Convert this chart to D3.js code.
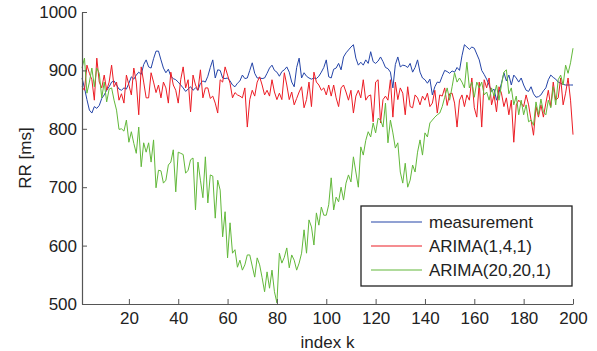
<!DOCTYPE html>
<html>
<head>
<meta charset="utf-8">
<script src="https://cdn.jsdelivr.net/npm/d3@7"></script>
<style>
  body { margin: 0; background: #fff; }
  svg { display: block; font-family: "Liberation Sans", Arial, Helvetica, sans-serif; }
</style>
</head>
<body>
<svg></svg>
<script>
const width = 597;
const height = 351;

// RR series, index k = 1..200
const measurement = [
  887, 870, 850, 832, 827, 838, 835, 840, 852, 858, 866, 872, 880, 882, 875, 868, 866, 870, 868, 878,
  889, 885, 892, 897, 893, 910, 918, 906, 904, 920, 933, 933, 918, 904, 896, 902, 890, 886, 884, 880,
  875, 870, 864, 868, 872, 866, 870, 866, 878, 882, 880, 890, 905, 918, 887, 901, 900, 887, 886, 887,
  882, 875, 872, 878, 882, 892, 886, 887, 900, 913, 895, 887, 887, 886, 887, 895, 904, 909, 900, 897,
  890, 898, 901, 906, 897, 880, 872, 905, 921, 887, 896, 890, 887, 885, 887, 886, 890, 897, 905, 918,
  889, 887, 902, 904, 912, 901, 923, 930, 935, 940, 944, 921, 909, 914, 909, 918, 912, 932, 915, 912,
  916, 923, 915, 905, 903, 897, 870, 910, 923, 906, 909, 908, 905, 912, 897, 905, 918, 897, 887, 884,
  878, 885, 858, 872, 880, 879, 890, 900, 898, 895, 899, 897, 905, 900, 925, 944, 940, 936, 940, 938,
  928, 918, 900, 893, 885, 875, 864, 868, 849, 862, 878, 896, 882, 892, 875, 892, 887, 880, 887, 875,
  866, 864, 872, 860, 854, 855, 858, 865, 870, 884, 892, 888, 885, 880, 878, 876, 875, 875, 875, 875
];
const arima141 = [
  872, 866, 909, 895, 884, 849, 921, 880, 870, 892, 866, 880, 909, 872, 880, 849, 860, 844, 892, 875,
  858, 904, 880, 824, 906, 880, 853, 853, 896, 880, 862, 875, 853, 880, 870, 844, 897, 875, 866, 844,
  884, 906, 870, 884, 829, 892, 875, 866, 901, 853, 870, 870, 852, 856, 844, 827, 884, 880, 906, 892,
  878, 853, 862, 858, 856, 853, 870, 803, 850, 866, 856, 880, 889, 875, 858, 866, 856, 884, 863, 850,
  861, 850, 896, 875, 850, 863, 841, 852, 863, 872, 836, 850, 880, 838, 897, 880, 875, 866, 870, 858,
  875, 856, 875, 853, 838, 870, 875, 863, 849, 866, 827, 856, 866, 853, 884, 849, 856, 858, 812, 880,
  884, 810, 850, 856, 849, 884, 820, 880, 850, 870, 861, 824, 872, 838, 836, 858, 853, 841, 856, 849,
  861, 838, 844, 866, 827, 858, 856, 870, 840, 860, 861, 844, 803, 849, 858, 838, 858, 849, 887, 836,
  820, 880, 803, 884, 870, 887, 841, 858, 829, 872, 861, 838, 853, 824, 849, 777, 841, 849, 844, 838,
  858, 841, 815, 789, 838, 820, 841, 820, 844, 866, 838, 880, 849, 853, 887, 841, 861, 887, 849, 790
];
const arima20201 = [
  904, 921, 861, 880, 904, 872, 904, 895, 853, 880, 846, 868, 870, 849, 832, 799, 800, 796, 815, 777,
  795, 775, 758, 803, 735, 776, 760, 776, 743, 781, 699, 729, 728, 707, 712, 738, 743, 764, 692, 760,
  758, 756, 724, 729, 747, 750, 661, 743, 712, 682, 752, 673, 721, 719, 647, 712, 695, 615, 658, 579,
  639, 587, 593, 563, 575, 558, 567, 584, 584, 565, 546, 579, 567, 545, 521, 555, 527, 558, 521, 502,
  587, 570, 580, 596, 562, 584, 575, 558, 570, 587, 627, 587, 644, 632, 601, 656, 635, 666, 652, 652,
  670, 716, 661, 683, 675, 700, 678, 707, 721, 709, 752, 726, 700, 769, 755, 780, 795, 786, 810, 793,
  818, 815, 803, 844, 776, 815, 793, 767, 776, 726, 707, 741, 700, 712, 738, 726, 760, 781, 755, 793,
  786, 810, 815, 820, 824, 827, 838, 854, 870, 849, 872, 896, 880, 887, 880, 870, 914, 870, 880, 854,
  880, 870, 880, 858, 863, 849, 870, 856, 875, 849, 875, 897, 901, 860, 870, 841, 856, 824, 849, 824,
  841, 812, 815, 806, 846, 824, 851, 829, 824, 849, 836, 872, 841, 884, 892, 875, 909, 895, 913, 938
];
const xTicks = [20, 40, 60, 80, 100, 120, 140, 160, 180, 200];
const yTicks = [500, 600, 700, 800, 900, 1000];
const seriesNames = ["measurement", "ARIMA(1,4,1)", "ARIMA(20,20,1)"];
const seriesColors = ["#2444a8", "#ec1c24", "#62b83a"];

const plotLeft = 82, plotRight = 573, plotTop = 12, plotBottom = 304;

const svg = d3.select("svg")
  .attr("width", width)
  .attr("height", height);

const x = d3.scaleLinear().domain([1, 200]).range([plotLeft, plotRight]);
const y = d3.scaleLinear().domain([500, 1000]).range([plotBottom, plotTop]);

const series = [measurement, arima141, arima20201];

const line = d3.line()
  .x((d, i) => x(i + 1))
  .y(d => y(d));

svg.selectAll(".series")
  .data(series)
  .enter()
  .append("path")
  .attr("class", "series")
  .attr("fill", "none")
  .attr("stroke", (d, i) => seriesColors[i])
  .attr("stroke-width", 1)
  .attr("stroke-linejoin", "round")
  .attr("d", line);

// axes, ticks point inward like matlab
const xAxis = svg.append("g")
  .attr("transform", `translate(0,${plotBottom})`)
  .call(d3.axisBottom(x).tickValues(xTicks).tickFormat(d3.format("d"))
    .tickSizeInner(-5).tickSizeOuter(0).tickPadding(8));

const yAxis = svg.append("g")
  .attr("transform", `translate(${plotLeft},0)`)
  .call(d3.axisLeft(y).tickValues(yTicks).tickFormat(d3.format("d"))
    .tickSizeInner(-5).tickSizeOuter(0).tickPadding(5));

[xAxis, yAxis].forEach(g => {
  g.select(".domain").attr("stroke", "#555").attr("stroke-width", 1.2);
  g.selectAll(".tick line").attr("stroke", "#555");
  g.selectAll(".tick text")
    .attr("fill", "#222")
    .style("font-size", "17px")
    .style("font-family", "'Liberation Sans', Arial, sans-serif");
});

svg.append("text")
  .attr("x", (plotLeft + plotRight) / 2)
  .attr("y", 348)
  .attr("text-anchor", "middle")
  .attr("fill", "#222")
  .style("font-size", "17px")
  .text("index k");

svg.append("text")
  .attr("transform", `translate(31,${(plotTop + plotBottom) / 2}) rotate(-90)`)
  .attr("text-anchor", "middle")
  .attr("fill", "#222")
  .style("font-size", "17px")
  .text("RR [ms]");

// legend
const legend = svg.append("g")
  .attr("transform", "translate(361,206)");

legend.append("rect")
  .attr("width", 211)
  .attr("height", 80)
  .attr("fill", "#fff")
  .attr("stroke", "#222")
  .attr("stroke-width", 1.3);

const items = legend.selectAll(".item")
  .data(seriesNames)
  .enter()
  .append("g")
  .attr("class", "item")
  .attr("transform", (d, i) => `translate(0,${16 + i * 24})`);

items.append("line")
  .attr("x1", 10)
  .attr("x2", 61)
  .attr("stroke", (d, i) => seriesColors[i])
  .attr("stroke-width", 1.2);

items.append("text")
  .attr("x", 68)
  .attr("dy", "0.35em")
  .attr("fill", "#222")
  .style("font-size", "17px")
  .text(d => d);
</script>
</body>
</html>
